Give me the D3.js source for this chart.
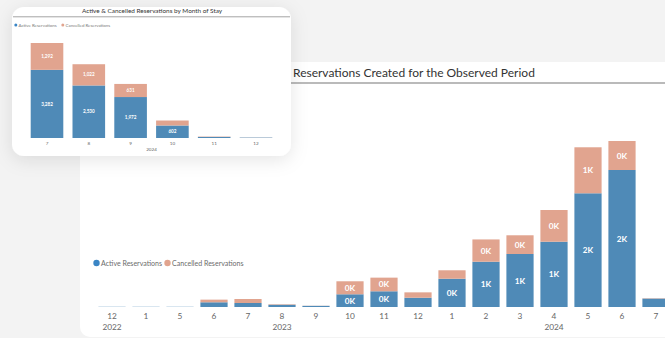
<!DOCTYPE html>
<html><head><meta charset="utf-8">
<script src="https://cdn.jsdelivr.net/npm/d3@7"></script>
<style>html,body{margin:0;padding:0;background:#f3f3f3;}svg{display:block;}</style>
</head><body>
<script>
// ---- Data: main chart (reservations created per month) ----
const bigMonths = ["12","1","5","6","7","8","9","10","11","12","1","2","3","4","5","6","7"];
const bigYears  = ["2022","2023","2023","2023","2023","2023","2023","2023","2023","2023","2024","2024","2024","2024","2024","2024","2024"];
const bigActive    = [3, 3, 3, 66, 56, 32, 16, 178, 220, 130, 396, 634, 742, 914, 1592, 1918, 118];
const bigCancelled = [0, 0, 0, 37, 56, 7, 2, 182, 191, 75, 118, 312, 262, 444, 644, 406, 5];

// ---- Data: inset chart (by month of stay) ----
const stayMonths = ["7","8","9","10","11","12"];
const stayYear = "2024";
const stayActive    = [3282, 2530, 1972, 602, 52, 20];
const stayCancelled = [1292, 1022, 631, 240, 18, 5];

const seriesNames = ["Active Reservations", "Cancelled Reservations"];
const colActive = "#4f8ab7", colCancel = "#e1a48f";
const legendActive = "#3a85c5";
const FONT = "Lato, 'Open Sans', sans-serif";

const W = 665, H = 338;
const svg = d3.select("body").append("svg").attr("width", W).attr("height", H);
const defs = svg.append("defs");
const f = defs.append("filter").attr("id","shadow").attr("x","-20%").attr("y","-20%").attr("width","140%").attr("height","150%");
f.append("feDropShadow").attr("dx",0).attr("dy",4).attr("stdDeviation",9).attr("flood-color","#000").attr("flood-opacity",0.10);

svg.append("rect").attr("width",W).attr("height",H).attr("fill","#f3f3f3");

// ===== Main panel =====
svg.append("rect").attr("x",80).attr("y",62).attr("width",640).attr("height",275).attr("rx",10).attr("fill","#ffffff");
svg.append("line").attr("x1",80).attr("x2",W).attr("y1",83).attr("y2",83).attr("stroke","#a3a3a3").attr("stroke-width",1.6);
svg.append("text").attr("x",293).attr("y",77).attr("font-family",FONT).attr("font-size",12).attr("fill","#333")
  .text("Reservations Created for the Observed Period");

// legend
const lg = svg.append("g").attr("font-family",FONT).attr("font-size",7.05).attr("fill","#6b6b6b");
lg.append("circle").attr("cx",96.5).attr("cy",263).attr("r",3.2).attr("fill",legendActive);
lg.append("text").attr("x",101).attr("y",265.5).text(seriesNames[0]);
lg.append("circle").attr("cx",167.5).attr("cy",263).attr("r",3.2).attr("fill",colCancel);
lg.append("text").attr("x",172).attr("y",265.5).text(seriesNames[1]);

const nB = bigMonths.length;
const xB = d3.scaleBand().domain(d3.range(nB)).range([95, 95 + 34 * nB]).paddingInner(0.2).paddingOuter(0.1);
const yB = d3.scaleLinear().domain([0, 2400]).range([307, 307 - 2400 / 14]);
const gB = svg.append("g");
const kfmt = v => Math.round(v / 1000) + "K";
d3.range(nB).forEach(i => {
  const a = bigActive[i], c = bigCancelled[i];
  gB.append("rect").attr("x",xB(i)).attr("width",xB.bandwidth()).attr("y",yB(a)).attr("height",yB(0)-yB(a)).attr("fill",colActive);
  gB.append("rect").attr("x",xB(i)).attr("width",xB.bandwidth()).attr("y",yB(a+c)).attr("height",yB(a)-yB(a+c)).attr("fill",colCancel);
  const cx = xB(i) + xB.bandwidth()/2;
  if (yB(0)-yB(a) >= 11) gB.append("text").attr("x",cx).attr("y",(yB(0)+yB(a))/2+3).attr("text-anchor","middle")
    .attr("font-family",FONT).attr("font-weight","bold").attr("font-size",8.2).attr("fill","#fff").text(kfmt(a));
  if (yB(a)-yB(a+c) >= 11) gB.append("text").attr("x",cx).attr("y",(yB(a)+yB(a+c))/2+3).attr("text-anchor","middle")
    .attr("font-family",FONT).attr("font-weight","bold").attr("font-size",8.2).attr("fill","#fff").text(kfmt(c));
});
// x axis labels (month + year hierarchy)
const axB = svg.append("g").attr("font-family",FONT).attr("font-size",8.3).attr("fill","#666").attr("text-anchor","middle");
bigMonths.forEach((m,i) => axB.append("text").attr("x",xB(i)+xB.bandwidth()/2).attr("y",319).text(m));
d3.groups(d3.range(nB), i => bigYears[i]).forEach(([yr, idx]) => {
  const cx = (xB(idx[0]) + xB(idx[idx.length-1]) + xB.bandwidth()) / 2;
  axB.append("text").attr("x",cx).attr("y",329.5).text(yr);
});

// ===== Inset card =====
const card = svg.append("g");
card.append("rect").attr("x",12).attr("y",7).attr("width",279).attr("height",149).attr("rx",12).attr("fill","#fff").attr("filter","url(#shadow)");
card.append("text").attr("x",152).attr("y",13.3).attr("text-anchor","middle").attr("font-family",FONT).attr("font-size",6.4).attr("fill","#333")
  .text("Active & Cancelled Reservations by Month of Stay");
card.append("line").attr("x1",13).attr("x2",290).attr("y1",16.8).attr("y2",16.8).attr("stroke","#9a9a9a").attr("stroke-width",0.9);
const sl = card.append("g").attr("font-family",FONT).attr("font-size",4.4).attr("fill","#777");
sl.append("circle").attr("cx",15.8).attr("cy",25).attr("r",1.5).attr("fill",legendActive);
sl.append("text").attr("x",18.6).attr("y",26.5).text(seriesNames[0]);
sl.append("circle").attr("cx",62.8).attr("cy",25).attr("r",1.5).attr("fill",colCancel);
sl.append("text").attr("x",65.6).attr("y",26.5).text(seriesNames[1]);

const nS = stayMonths.length;
const xS = d3.scaleBand().domain(d3.range(nS)).range([26.1, 26.1 + 41.8 * nS]).paddingInner(0.22).paddingOuter(0.11);
const totS = stayActive.map((a,i) => a + stayCancelled[i]);
const yS = d3.scaleLinear().domain([0, d3.max(totS)]).range([138, 43]);
const cfmt = d3.format(",");
d3.range(nS).forEach(i => {
  const a = stayActive[i], c = stayCancelled[i];
  card.append("rect").attr("x",xS(i)).attr("width",xS.bandwidth()).attr("y",yS(a)).attr("height",yS(0)-yS(a)).attr("fill",colActive);
  card.append("rect").attr("x",xS(i)).attr("width",xS.bandwidth()).attr("y",yS(a+c)).attr("height",yS(a)-yS(a+c)).attr("fill",colCancel);
  const cx = xS(i) + xS.bandwidth()/2;
  if (yS(0)-yS(a) >= 8) card.append("text").attr("x",cx).attr("y",(yS(0)+yS(a))/2+1.6).attr("text-anchor","middle")
    .attr("font-family",FONT).attr("font-weight","bold").attr("font-size",4.6).attr("fill","#fff").text(cfmt(a));
  if (yS(a)-yS(a+c) >= 8) card.append("text").attr("x",cx).attr("y",(yS(a)+yS(a+c))/2+1.6).attr("text-anchor","middle")
    .attr("font-family",FONT).attr("font-weight","bold").attr("font-size",4.6).attr("fill","#fff").text(cfmt(c));
  card.append("text").attr("x",cx).attr("y",145).attr("text-anchor","middle").attr("font-family",FONT).attr("font-size",4.6).attr("fill","#666").text(stayMonths[i]);
});
card.append("text").attr("x",(xS(0)+xS(nS-1)+xS.bandwidth())/2).attr("y",151).attr("text-anchor","middle")
  .attr("font-family",FONT).attr("font-size",4.6).attr("fill","#666").text(stayYear);
</script>
</body></html>
